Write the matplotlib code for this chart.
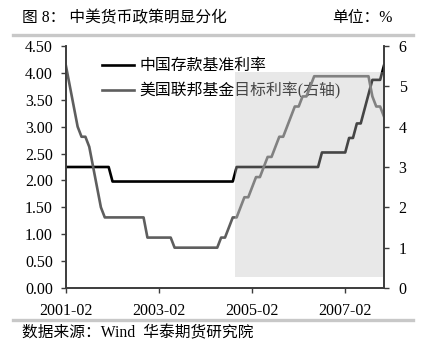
import matplotlib
matplotlib.use("Agg")
import matplotlib.pyplot as plt
from matplotlib.patches import Rectangle
from matplotlib.lines import Line2D

plt.rcParams["font.family"] = ["Liberation Serif", "Noto Sans CJK SC"]

# 月度数据，2001-02 至 2007-12
tick_labels = ["2001-02", "2003-02", "2005-02", "2007-02"]
tick_pos = [0, 24, 48, 72]

# 中国一年期存款基准利率 (%)
cn_deposit = (
    [2.25, 2.25, 2.25, 2.25, 2.25, 2.25, 2.25, 2.25, 2.25, 2.25, 2.25]            # 2001-02..12
    + [2.25, 1.98, 1.98, 1.98, 1.98, 1.98, 1.98, 1.98, 1.98, 1.98, 1.98, 1.98]    # 2002
    + [1.98, 1.98, 1.98, 1.98, 1.98, 1.98, 1.98, 1.98, 1.98, 1.98, 1.98, 1.98]    # 2003
    + [1.98, 1.98, 1.98, 1.98, 1.98, 1.98, 1.98, 1.98, 1.98, 2.25, 2.25, 2.25]    # 2004
    + [2.25, 2.25, 2.25, 2.25, 2.25, 2.25, 2.25, 2.25, 2.25, 2.25, 2.25, 2.25]    # 2005
    + [2.25, 2.25, 2.25, 2.25, 2.25, 2.25, 2.25, 2.52, 2.52, 2.52, 2.52, 2.52]    # 2006
    + [2.52, 2.52, 2.79, 2.79, 3.06, 3.06, 3.33, 3.60, 3.87, 3.87, 3.87, 4.14]    # 2007
)

# 美国联邦基金目标利率 (%)，右轴
us_fed = (
    [5.50, 5.00, 4.50, 4.00, 3.75, 3.75, 3.50, 3.00, 2.50, 2.00, 1.75]            # 2001-02..12
    + [1.75, 1.75, 1.75, 1.75, 1.75, 1.75, 1.75, 1.75, 1.75, 1.75, 1.25, 1.25]    # 2002
    + [1.25, 1.25, 1.25, 1.25, 1.25, 1.00, 1.00, 1.00, 1.00, 1.00, 1.00, 1.00]    # 2003
    + [1.00, 1.00, 1.00, 1.00, 1.00, 1.25, 1.25, 1.50, 1.75, 1.75, 2.00, 2.25]    # 2004
    + [2.25, 2.50, 2.75, 2.75, 3.00, 3.25, 3.25, 3.50, 3.75, 3.75, 4.00, 4.25]    # 2005
    + [4.50, 4.50, 4.75, 4.75, 5.00, 5.25, 5.25, 5.25, 5.25, 5.25, 5.25, 5.25]    # 2006
    + [5.25, 5.25, 5.25, 5.25, 5.25, 5.25, 5.25, 5.25, 4.75, 4.50, 4.50, 4.25]    # 2007
)

months = list(range(len(cn_deposit)))

W, H = 432, 345
fig = plt.figure(figsize=(W / 100, H / 100), dpi=100)
ax = fig.add_axes([66 / W, 1 - 288 / H, (384 - 66) / W, (288 - 46) / H])
ax2 = ax.twinx()

spine_c = "#3c3c3c"
l1, = ax.plot(months, cn_deposit, color="black", lw=1.9, label="中国存款基准利率")
l2, = ax2.plot(months, us_fed, color="#5e5e5e", lw=1.9, label="美国联邦基金目标利率(右轴)")

ax.set_xlim(0, len(months) - 1)
ax.set_ylim(0, 4.5)
ax2.set_ylim(0, 6)
ax.set_yticks([i * 0.5 for i in range(10)])
ax.set_yticklabels([f"{i * 0.5:.2f}" for i in range(10)])
ax2.set_yticks(range(7))
ax.set_xticks(tick_pos)
ax.set_xticklabels(tick_labels)

for a in (ax, ax2):
    a.spines["top"].set_visible(False)
    for s in ("left", "right", "bottom"):
        a.spines[s].set_color(spine_c)
        a.spines[s].set_linewidth(1.2)
    a.tick_params(axis="both", direction="out", length=3.5, width=1.0,
                  color=spine_c, labelsize=11.5, labelcolor="black")
ax.tick_params(axis="y", pad=6)
ax.tick_params(axis="x", pad=7)
ax2.tick_params(axis="y", pad=7)

leg = ax.legend(handles=[l1, l2], loc="upper left", bbox_to_anchor=((96 - 66) / (384 - 66), 1 - 6 / 242),
                frameon=False, fontsize=11.4, handlelength=2.0, handletextpad=0.35,
                labelspacing=0.5, borderaxespad=0)

# 2004-10 以后的阴影区，覆盖在曲线之上
ax2.add_patch(Rectangle((43.5, 0.2), 81.8 - 43.5, 4.02 - 0.2, transform=ax.transData,
                        facecolor="#c0c0c0", alpha=0.36, edgecolor="none", zorder=5))

fig.text(22 / W, 1 - 18 / H, "图 8： 中美货币政策明显分化", fontsize=11.3, va="center", ha="left")
fig.text(393 / W, 1 - 18 / H, "单位：%", fontsize=11.3, va="center", ha="right")
fig.text(22 / W, 1 - 333 / H, "数据来源：Wind  华泰期货研究院", fontsize=11.3, va="center", ha="left")

for yy in (35, 320):
    fig.add_artist(Line2D([13 / W, 413 / W], [1 - yy / H, 1 - yy / H], color="#c8c8c8", lw=2.4))

fig.savefig("out.png", dpi=100)
